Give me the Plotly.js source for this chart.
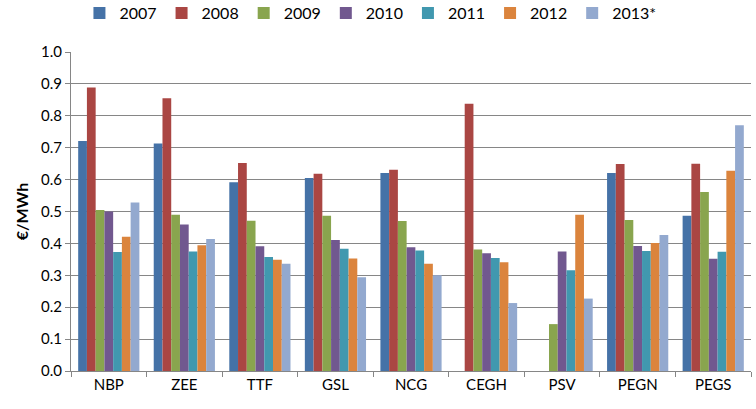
<!DOCTYPE html>
<html><head><meta charset="utf-8">
<script src="https://cdn.plot.ly/plotly-3.0.1.min.js"></script>
<style>body{margin:0;background:#fff}#c{width:756px;height:409px}</style>
</head><body><div id="c"></div>
<script>
const hubs = ["NBP","ZEE","TTF","GSL","NCG","CEGH","PSV","PEGN","PEGS"];
const years = ["2007","2008","2009","2010","2011","2012","2013*"];
const colors = ["#4572A7","#AA4643","#89A54E","#71588F","#4198AF","#DB843D","#93A9CF"];
const v2007 = [0.721,0.713,0.592,0.605,0.621,null,null,0.621,0.487];
const v2008 = [0.889,0.855,0.652,0.618,0.631,0.838,null,0.649,0.650];
const v2009 = [0.505,0.490,0.471,0.487,0.470,0.381,0.147,0.473,0.561];
const v2010 = [0.500,0.459,0.391,0.411,0.388,0.369,0.375,0.392,0.352];
const v2011 = [0.373,0.375,0.357,0.383,0.378,0.354,0.316,0.376,0.374];
const v2012 = [0.421,0.394,0.349,0.353,0.336,0.341,0.490,0.401,0.628];
const v2013 = [0.528,0.414,0.336,0.294,0.300,0.213,0.227,0.426,0.770];
const series = [v2007,v2008,v2009,v2010,v2011,v2012,v2013];
const font = "Lato, 'Open Sans', sans-serif";
const data = series.map((s,i)=>({type:"bar",name:years[i],x:hubs,y:s,marker:{color:colors[i]}}));
const layout = {
  width:756,height:409,
  margin:{l:71,r:5,t:52,b:38},
  barmode:"group",bargap:0.19,bargroupgap:0,
  paper_bgcolor:"#fff",plot_bgcolor:"#fff",
  font:{family:font,size:15,color:"#000"},
  showlegend:true,
  legend:{orientation:"h",xref:"container",yref:"container",x:0.49,xanchor:"center",y:0.968,yanchor:"middle",font:{size:16},traceorder:"normal",itemwidth:30},
  xaxis:{type:"category",showline:true,linecolor:"#868686",linewidth:1,ticks:"outside",tickson:"boundaries",ticklen:5,tickcolor:"#868686",showgrid:false,tickfont:{size:15}},
  yaxis:{range:[0,1.0],dtick:0.1,tickformat:".1f",showgrid:true,gridcolor:"#868686",gridwidth:1,showline:true,linecolor:"#868686",ticks:"outside",ticklen:5,tickcolor:"#868686",zeroline:false,tickfont:{size:15},
    title:{text:"<b>€/MWh</b>",font:{size:16},standoff:8}}
};
Plotly.newPlot("c",data,layout,{displayModeBar:false,staticPlot:true});
</script></body></html>
